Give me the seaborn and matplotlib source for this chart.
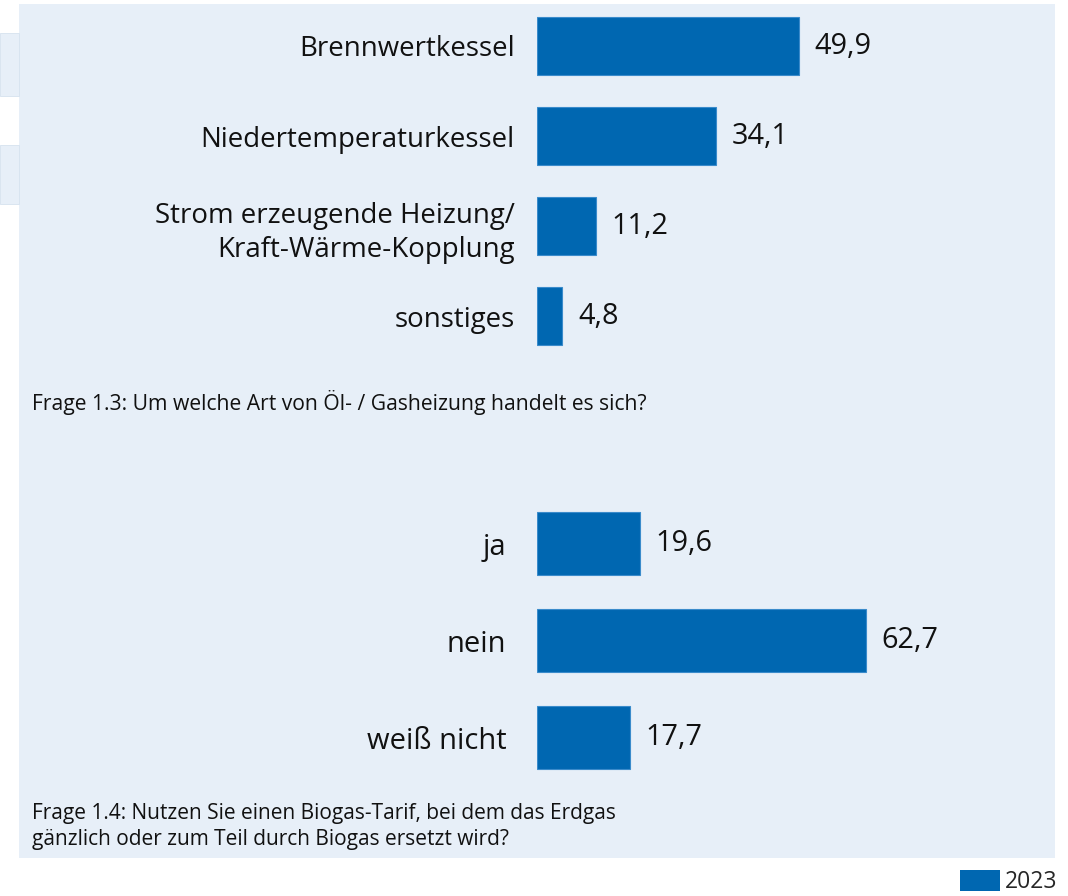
import matplotlib
matplotlib.use("Agg")
import matplotlib.pyplot as plt
from matplotlib.patches import Rectangle, Patch
import seaborn as sns

# ---- data ----
heating_types = ["Brennwertkessel", "Niedertemperaturkessel",
                 "Strom erzeugende Heizung/\nKraft-Wärme-Kopplung", "sonstiges"]
heating_values = [49.9, 34.1, 11.2, 4.8]
biogas_answers = ["ja", "nein", "weiß nicht"]
biogas_values = [19.6, 62.7, 17.7]
caption_heating = "Frage 1.3: Um welche Art von Öl- / Gasheizung handelt es sich?"
caption_biogas = ("Frage 1.4: Nutzen Sie einen Biogas-Tarif, bei dem das Erdgas\n"
                  "gänzlich oder zum Teil durch Biogas ersetzt wird?")
legend_label = "2023"

BAR = "#0067b1"
EDGE = "#3a8bcb"
PANEL = "#e7eff8"
FONT = ["Open Sans", "DejaVu Sans"]

sns.set_theme(style="white")
plt.rcParams["font.family"] = FONT

W, H = 1068, 896
fig = plt.figure(figsize=(W / 100, H / 100), dpi=100)
fig.patch.set_facecolor("white")

def fx(px):
    return px / W

def fy(py):
    return 1 - py / H

# background panel and side strips
fig.add_artist(Rectangle((fx(19), fy(858)), fx(1055) - fx(19), fy(4) - fy(858),
                         transform=fig.transFigure, facecolor=PANEL, edgecolor="none", zorder=0))
for y0, y1 in [(33, 96), (145, 204)]:
    fig.add_artist(Rectangle((0, fy(y1)), fx(19), fy(y0) - fy(y1),
                             transform=fig.transFigure, facecolor=PANEL,
                             edgecolor="#d6e2ef", linewidth=0.6, zorder=0))

PX_PER_UNIT = 5.245
AX_LEFT = 537
AX_W = 500

def make_axes(top_px, bottom_px):
    ax = fig.add_axes([fx(AX_LEFT), fy(bottom_px), fx(AX_W), fy(top_px) - fy(bottom_px)])
    ax.set_facecolor("none")
    return ax

def draw(ax, cats, vals, n, pad_pt, labelsize):
    sns.barplot(x=vals, y=cats, ax=ax, color=BAR, saturation=1, width=0.645,
                orient="h", edgecolor=EDGE, linewidth=0.8)
    ax.set_xlim(0, AX_W / PX_PER_UNIT)
    ax.set_ylim(n - 0.5, -0.5)
    for c in ax.containers:
        ax.bar_label(c, labels=[f"{v:.1f}".replace(".", ",") for v in vals],
                     padding=11.5, fontsize=20.8, color="#111111")
    ax.set_xticks([])
    ax.set_xlabel("")
    ax.set_ylabel("")
    ax.tick_params(axis="y", length=0, pad=pad_pt, labelsize=labelsize, labelcolor="#111111")
    for lab in ax.get_yticklabels():
        lab.set_linespacing(1.3)
    sns.despine(ax=ax, left=True, bottom=True)

ax1 = make_axes(1, 361)
draw(ax1, heating_types, heating_values, 4, 16, 19.9)

ax2 = make_axes(495, 786)
draw(ax2, biogas_answers, biogas_values, 3, 22, 21)

fig.text(fx(32), fy(402), caption_heating, fontsize=15.2, va="center", ha="left", color="#111111")
fig.text(fx(32), fy(826.5), caption_biogas, fontsize=15, va="center", ha="left",
         color="#111111", linespacing=1.3)

fig.legend(handles=[Patch(facecolor=BAR, edgecolor="none")], labels=[legend_label],
           loc="lower right", bbox_to_anchor=(fx(1057), fy(894)), frameon=False,
           fontsize=16.5, handlelength=1.75, handleheight=1.05, handletextpad=0.18,
           borderpad=0, borderaxespad=0)

fig.savefig("out.png", dpi=100, facecolor="white")
